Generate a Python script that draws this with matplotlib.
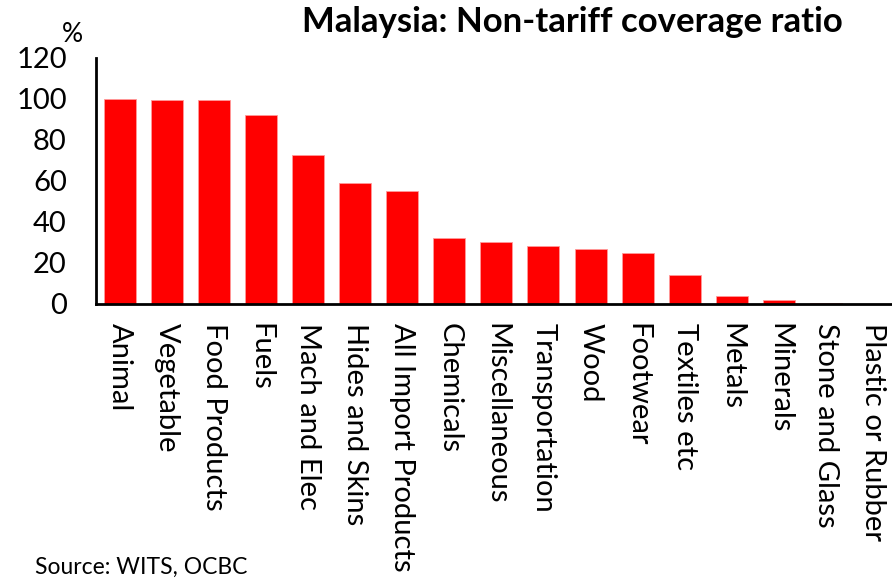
import matplotlib
matplotlib.use("Agg")
import matplotlib.pyplot as plt

plt.rcParams["font.family"] = ["Lato", "DejaVu Sans"]

categories = ["Animal", "Vegetable", "Food Products", "Fuels", "Mach and Elec",
              "Hides and Skins", "All Import Products", "Chemicals",
              "Miscellaneous", "Transportation", "Wood", "Footwear",
              "Textiles etc", "Metals", "Minerals", "Stone and Glass",
              "Plastic or Rubber"]
coverage = [100.0, 99.5, 99.3, 92.2, 72.5, 59.0, 55.0, 32.3, 30.1, 28.4,
            26.8, 24.9, 14.1, 3.9, 1.7, 0.4, 0.1]
yticks = [0, 20, 40, 60, 80, 100, 120]

fig = plt.figure(figsize=(8.92, 5.79), dpi=100)
ax = fig.add_axes([0.1076, 0.475, 0.8924, 0.425])

x = range(len(categories))
ax.bar(x, coverage, width=0.68, color="#ff0000", edgecolor="#ff9a9a", linewidth=0.6)

ax.set_xlim(-0.5, 16.4)
ax.set_ylim(0, 120)
ax.set_yticks(yticks)
ax.set_yticklabels([str(t) for t in yticks], fontsize=21)
ax.set_xticks(list(x))
ax.set_xticklabels(categories, rotation=-90, fontsize=21, va="top", ha="center")
ax.tick_params(axis="both", length=0)
ax.tick_params(axis="y", pad=21)
ax.tick_params(axis="x", pad=14)

for side in ("top", "right"):
    ax.spines[side].set_visible(False)
for side in ("left", "bottom"):
    ax.spines[side].set_linewidth(2)
    ax.spines[side].set_color("black")

fig.text(0.642, 0.962, "Malaysia: Non-tariff coverage ratio", ha="center",
         va="center", fontsize=25, fontweight="bold")
fig.text(0.081, 0.94, "%", ha="center", va="center", fontsize=19)
fig.text(0.039, 0.002, "Source: WITS, OCBC", ha="left", va="bottom", fontsize=16.5)

fig.savefig("out.png", dpi=100)
